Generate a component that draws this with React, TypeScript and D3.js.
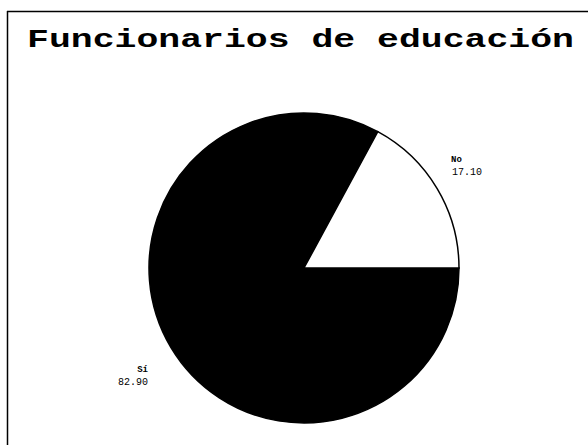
import React from "react";
import * as d3 from "d3";

const categories = ["Sí", "No"];
const values = [82.9, 17.1];
const valueLabels = ["82.90", "17.10"];
const colors = ["#000000", "#ffffff"];
const title = "Funcionarios de educación";

export default function App() {
  const W = 588, H = 445;
  const cx = 304, cy = 268, r = 155;
  const data = categories.map((c, i) => ({ c, v: values[i], label: valueLabels[i], color: colors[i] }));
  const pie = d3.pie<any>().value((d) => d.v).sort(null).startAngle(Math.PI / 2).endAngle(Math.PI / 2 + 2 * Math.PI);
  const arcs = pie(data);
  const arc = d3.arc<any>().innerRadius(0).outerRadius(r);
  const labelPos: Record<string, { x: number; y: number; anchor: string }> = {
    "Sí": { x: 148, y: 372, anchor: "end" },
    "No": { x: 451, y: 162, anchor: "start" },
  };
  return (
    <svg width={W} height={H} style={{ position: "absolute", left: 0, top: 0, background: "#fff" }}>
      <rect x={0} y={0} width={W} height={H} fill="#fff" />
      <line x1={7} y1={11.5} x2={588} y2={11.5} stroke="#000" strokeWidth={1.5} />
      <line x1={7.5} y1={11} x2={7.5} y2={445} stroke="#000" strokeWidth={1.5} />
      <text x={27} y={47} fontFamily="'Liberation Mono', 'Courier New', monospace" fontWeight="bold" fontSize={26}
        textLength={547} lengthAdjust="spacingAndGlyphs" fill="#000">{title}</text>
      <g transform={`translate(${cx},${cy})`}>
        {arcs.map((a, i) => (
          <path key={i} d={arc(a) as string} fill={a.data.color} stroke="#000" strokeWidth={1.5} />
        ))}
      </g>
      {data.map((d) => {
        const p = labelPos[d.c];
        return (
          <g key={d.c} fontFamily="'Liberation Mono', 'Courier New', monospace" fontSize={9} fill="#000">
            <text x={p.x} y={p.y} textAnchor={p.anchor} fontWeight="bold">{d.c}</text>
            <text x={p.anchor === "end" ? p.x : p.x + 1} y={p.y + 13} textAnchor={p.anchor} fontSize={10}>{d.label}</text>
          </g>
        );
      })}
    </svg>
  );
}
